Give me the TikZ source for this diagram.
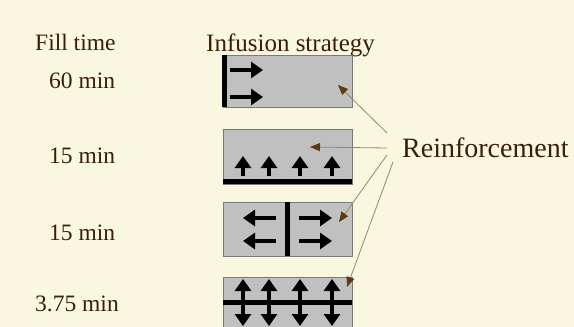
\documentclass[tikz,border=0pt]{standalone}
\usepackage{fontspec}
\setmainfont{Liberation Serif}
\usetikzlibrary{arrows.meta}
\definecolor{paper}{HTML}{FAF7E1}
\definecolor{ink}{HTML}{3A1E0A}
\definecolor{panel}{HTML}{C0C0C0}
\definecolor{paneledge}{HTML}{7A7A7A}
\definecolor{leader}{HTML}{9C8466}
\definecolor{tipbrown}{HTML}{5C3A12}
\tikzset{
  lbl/.style={text=ink, inner sep=0pt, anchor=base west, font=\rmfamily\fontsize{23.5}{28}\selectfont},
  panelbox/.style={fill=panel, draw=paneledge, line width=0.8pt, anchor=north west, inner sep=0pt, minimum width=129pt},
  flow/.style={line width=3.8pt, -{Triangle[length=12pt 0 0,width=16pt 0 0]}},
  wall/.style={fill=black, draw=none},
  leaderline/.style={draw=leader, line width=0.8pt, -{Triangle[length=10pt 0 0,width=8pt 0 0,color=tipbrown]}}
}
\begin{document}
\begin{tikzpicture}[x=1pt,y=-1pt]
\fill[paper] (0,0) rectangle (574,327);
\useasboundingbox (0,0) rectangle (574,327);
\clip (0,0) rectangle (574,327);

% column headings and fill times
\node[lbl] (fillhead) at (35,50) {Fill time};
\node[lbl, font=\rmfamily\fontsize{25}{30}\selectfont] (infhead) at (206,51) {Infusion strategy};
\node[lbl] (t1) at (49,88) {60 min};
\node[lbl] (t2) at (49,163) {15 min};
\node[lbl] (t3) at (49,240) {15 min};
\node[lbl] (t4) at (35,311) {3.75 min};
\node[lbl, font=\rmfamily\fontsize{28}{33}\selectfont] (reinf) at (402,157) {Reinforcement};

% panel 1: injection line along the left edge
\node[panelbox, minimum height=52pt] (b1) at (223,55) {};
\fill[wall] (222,55) rectangle (227,107);
\draw[flow] (230,70) -- (263,70);
\draw[flow] (230,97) -- (263,97);

% panel 2: injection line along the bottom edge
\node[panelbox, minimum height=55pt] (b2) at (223,129) {};
\fill[wall] (223,179) rectangle (352,184);
\foreach \x in {243,269,300,332} \draw[flow] (\x,176) -- (\x,156);

% panel 3: central injection line, flow both ways
\node[panelbox, minimum height=54pt] (b3) at (223,202) {};
\fill[wall] (285,202) rectangle (290,256);
\foreach \y in {218,241} {
  \draw[flow] (276,\y) -- (243,\y);
  \draw[flow] (299,\y) -- (332,\y);
}

% panel 4: central injection line, flow up and down
\node[panelbox, minimum height=70pt] (b4) at (223,277) {};
\fill[wall] (223,300) rectangle (352,305);
\foreach \x in {243,269,300,332} {
  \draw[flow] (\x,300) -- (\x,279);
  \draw[flow] (\x,305) -- (\x,326);
}

% leaders from the label to each panel
\coordinate (p1) at (338,85);
\coordinate (p2) at (310,147);
\coordinate (p3) at (339,222);
\coordinate (p4) at (347,287);
\draw[leaderline] ([shift={(-15,-24)}]reinf.base west) -- (p1);
\draw[leaderline] ([shift={(-15,-9)}]reinf.base west) -- (p2);
\draw[leaderline] ([shift={(-15,-2)}]reinf.base west) -- (p3);
\draw[leaderline] ([shift={(-9,5)}]reinf.base west) -- (p4);
\end{tikzpicture}
\end{document}
